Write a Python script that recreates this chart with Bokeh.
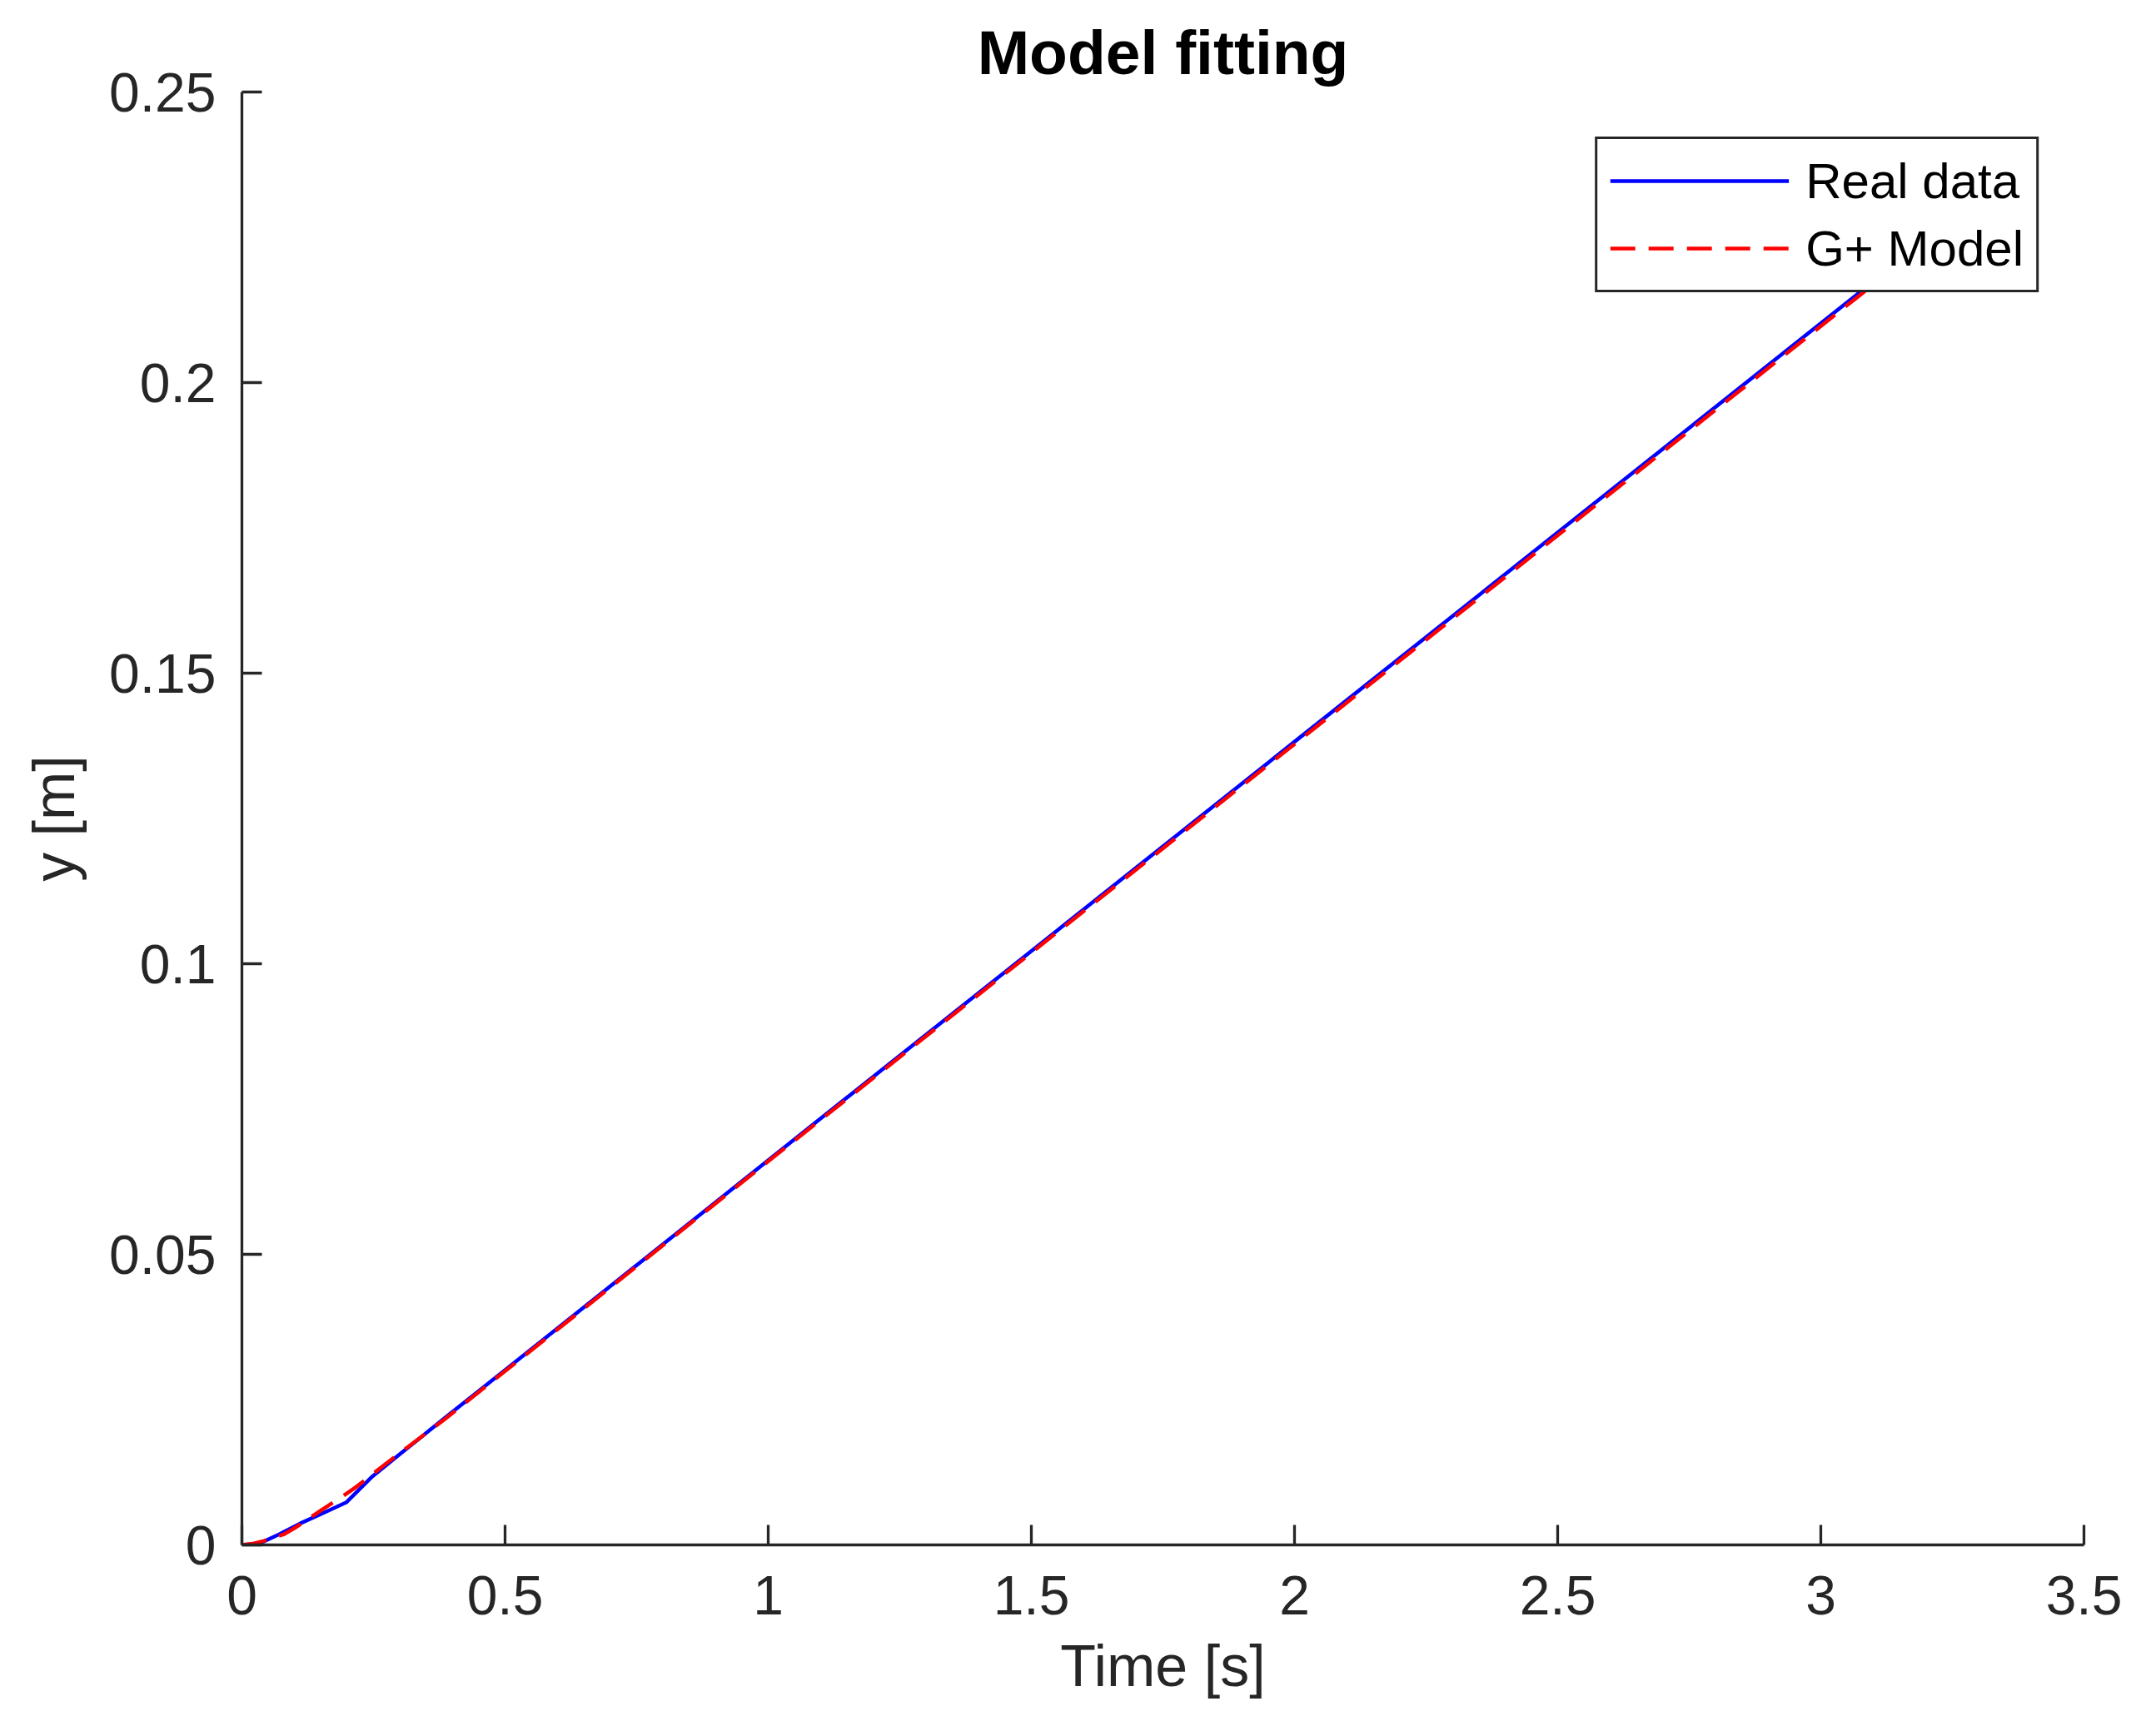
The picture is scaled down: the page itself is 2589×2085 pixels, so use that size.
from bokeh.plotting import figure
from bokeh.models import Range1d, FixedTicker
from bokeh.embed import file_html
from bokeh.resources import INLINE

# ---- data ----
t_real = [0, 0.02, 0.042, 0.07, 0.111, 0.15, 0.198, 0.248, 0.3, 0.385, 0.5, 0.643,
          1.0, 1.5, 2.0, 2.5, 3.0, 3.3]
y_real = [0, 0.0001, 0.0006, 0.0018, 0.0037, 0.0053, 0.0073, 0.0118, 0.0156, 0.0218,
          0.0301, 0.0404, 0.0662, 0.1022, 0.1382, 0.1742, 0.2102, 0.2318]

t_model = [0, 0.02, 0.042, 0.079, 0.1, 0.153, 0.2, 0.216, 0.274, 0.3, 0.385, 0.5,
           0.643, 1.0, 1.5, 2.0, 2.5, 3.0, 3.3]
y_model = [0, 0.0002, 0.0007, 0.0018, 0.0029, 0.0061, 0.0089, 0.0099, 0.0140, 0.0158,
           0.0216, 0.0299, 0.0402, 0.0660, 0.1019, 0.1378, 0.1737, 0.2097, 0.2313]

x_ticks = [0, 0.5, 1, 1.5, 2, 2.5, 3, 3.5]
x_tick_labels = ["0", "0.5", "1", "1.5", "2", "2.5", "3", "3.5"]
y_ticks = [0, 0.05, 0.1, 0.15, 0.2, 0.25]
y_tick_labels = ["0", "0.05", "0.1", "0.15", "0.2", "0.25"]

FONT = "Liberation Sans"
AX = "#262626"

p = figure(width=2573, height=2069, output_backend="svg", toolbar_location=None,
           x_range=Range1d(0, 3.5), y_range=Range1d(0, 0.25),
           min_border_left=290, min_border_right=71, min_border_top=110,
           min_border_bottom=214, background_fill_color="white",
           border_fill_color="white")
p.outline_line_color = None
p.xgrid.visible = False
p.ygrid.visible = False

p.line(t_real, y_real, line_color="#0000ff", line_width=4.5, legend_label="Real data")
p.line(t_model, y_model, line_color="#ff0000", line_width=4.5, line_dash="30 16",
       legend_label="G+ Model")

p.title.text = "Model fitting"
p.title.align = "center"
p.title.text_font = FONT
p.title.text_font_size = "75px"
p.title.text_font_style = "bold"
p.title.text_color = "black"
p.title.standoff = 12

for ax, ticks, labels in ((p.xaxis[0], x_ticks, x_tick_labels),
                          (p.yaxis[0], y_ticks, y_tick_labels)):
    ax.ticker = FixedTicker(ticks=ticks)
    ax.major_label_overrides = dict(zip(ticks, labels))
    ax.axis_line_color = AX
    ax.axis_line_width = 3.3
    ax.major_tick_line_color = AX
    ax.major_tick_line_width = 3.3
    ax.major_tick_in = 24
    ax.major_tick_out = 0
    ax.minor_tick_line_color = None
    ax.major_label_text_font = FONT
    ax.major_label_text_font_size = "66px"
    ax.major_label_text_color = AX
    ax.axis_label_text_font = FONT
    ax.axis_label_text_font_size = "70px"
    ax.axis_label_text_font_style = "normal"
    ax.axis_label_text_color = AX

p.xaxis.axis_label = "Time [s]"
p.yaxis.axis_label = "y [m]"
p.xaxis.major_label_standoff = 37
p.yaxis.major_label_standoff = 31
p.xaxis.axis_label_standoff = 20
p.yaxis.axis_label_standoff = 24

lg = p.legend[0]
lg.location = "top_right"
lg.margin = 54
lg.padding = 15
lg.spacing = 11
lg.border_line_color = AX
lg.border_line_width = 3.5
lg.border_line_alpha = 1
lg.background_fill_color = "white"
lg.background_fill_alpha = 1
lg.label_text_font = FONT
lg.label_text_font_size = "60px"
lg.label_text_color = "black"
lg.glyph_width = 215
lg.glyph_height = 70
lg.label_height = 70
lg.label_standoff = 20

open("out.html", "w").write(file_html(p, INLINE))
